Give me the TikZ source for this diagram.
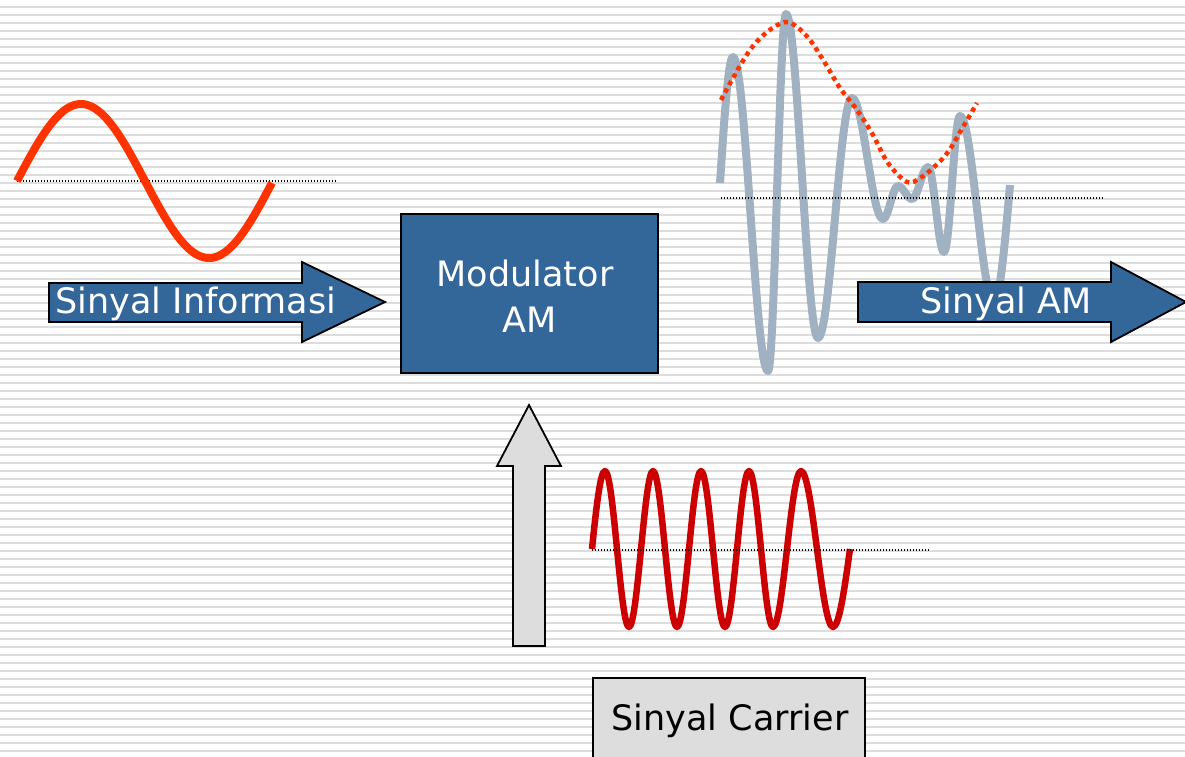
\documentclass[tikz,border=0pt]{standalone}
\usepackage{fontspec}
\setmainfont{DejaVu Sans}
\definecolor{amblue}{RGB}{51,102,153}
\definecolor{infored}{RGB}{255,51,0}
\definecolor{carred}{RGB}{204,0,0}
\definecolor{wavegray}{RGB}{160,177,193}
\definecolor{stripegray}{RGB}{221,221,221}
\definecolor{boxgray}{RGB}{221,221,221}
\tikzset{
  stripe/.style={draw=stripegray, line width=2pt},
  axisdots/.style={draw=black, line width=1.4pt, dash pattern=on 1.4pt off 1.6pt},
  envdots/.style={draw=infored, line width=4.5pt, dash pattern=on 4.5pt off 4pt},
  blockarrow/.style={fill=amblue, draw=black, line width=1.8pt, line join=miter},
  grayblock/.style={fill=boxgray, draw=black, line width=1.8pt, line join=miter},
  wlabel/.style={text=white, anchor=base, inner sep=0pt, font=\fontsize{35}{42}\selectfont},
  blabel/.style={text=black, anchor=base, inner sep=0pt, font=\fontsize{35}{42}\selectfont},
}
\begin{document}
\begin{tikzpicture}[x=1pt, y=-1pt]
\useasboundingbox (0,0) rectangle (1185,756);
\clip (0,0) rectangle (1185,756);
\fill[white] (0,0) rectangle (1185,756);

% ruled background
\foreach \k in {0,...,93}
  \draw[stripe] (0,{7+8*\k}) -- (1185,{7+8*\k});

% information signal
\draw[axisdots] (17,181) -- (337,181);
\draw[infored, line width=8pt, domain=17:272, samples=120, smooth]
  plot (\x, {181-77*sin(1.40625*(\x-17))});

% carrier signal
\draw[carred, line width=6.5pt, line join=round]
  (592,549) .. controls (596.3,507) and (600.3,471) .. (605,471)
  .. controls +(8.7,0) and +(-8.7,0) .. (629,627)
  .. controls +(8.6,0) and +(-8.6,0) .. (653,471)
  .. controls +(8.7,0) and +(-8.7,0) .. (677,627)
  .. controls +(8.7,0) and +(-8.7,0) .. (701,471)
  .. controls +(8.7,0) and +(-8.7,0) .. (725,627)
  .. controls +(8.7,0) and +(-8.7,0) .. (749,471)
  .. controls +(8.7,0) and +(-8.7,0) .. (773,627)
  .. controls +(10.2,0) and +(-10.2,0) .. (801,471)
  .. controls +(11.6,0) and +(-11.6,0) .. (833,627)
  .. controls (839.1,627) and (844.4,589.6) .. (850,549);
\draw[axisdots] (592,550) -- (929,550);

% modulated signal
\draw[wavegray, line width=8pt, line join=round]
  (720,183) .. controls (724.3,118) and (728.3,57) .. (733,57)
  .. controls +(12.7,0) and +(-12.7,0) .. (768,371)
  .. controls +(6.6,0) and +(-6.6,0) .. (786,14)
  .. controls +(11.6,0) and +(-11.6,0) .. (818,338)
  .. controls +(12.4,0) and +(-12.4,0) .. (852,98)
  .. controls +(11.3,0) and +(-11.3,0) .. (883,219)
  .. controls +(5.5,0) and +(-5.5,0) .. (898,186)
  .. controls +(5.1,0) and +(-5.1,0) .. (912,199)
  .. controls +(5.8,0) and +(-5.8,0) .. (928,167)
  .. controls +(5.8,0) and +(-5.8,0) .. (944,252)
  .. controls +(5.8,0) and +(-5.8,0) .. (960,116)
  .. controls +(12.4,0) and +(-12.4,0) .. (994,302)
  .. controls (999.8,302) and (1004.7,245) .. (1010,185);
\draw[axisdots] (721,198) -- (1103,198);
\draw[envdots, smooth, tension=0.6] plot coordinates {
  (721,100) (733,78) (750,50) (767,32) (785,22) (797,27) (810,40)
  (825,63) (840,88) (857,110) (873,135) (888,163) (907,182)
  (920,178) (933,168) (948,152) (963,127) (977,103)};

% input arrow
\draw[blockarrow] (49,283) -- (302,283) -- (302,262) -- (385,302)
  -- (302,342) -- (302,322) -- (49,322) -- cycle;
\node[wlabel] (info) at (196,313) {Sinyal Informasi};

% output arrow
\draw[blockarrow] (858,282) -- (1111,282) -- (1111,262) -- (1186,302)
  -- (1111,342) -- (1111,322) -- (858,322) -- cycle;
\node[wlabel] (out) at (1006,313) {Sinyal AM};

% modulator block
\draw[blockarrow] (401,214) rectangle (658,373);
\node[wlabel] (mod1) at (525,286) {Modulator};
\node[wlabel] (mod2) at (530,332) {AM};

% carrier feed arrow
\draw[grayblock] (529,405) -- (561,466) -- (545,466) -- (545,646)
  -- (513,646) -- (513,466) -- (497,466) -- cycle;

% carrier source
\draw[grayblock] (593,678) rectangle (865,770);
\node[blabel] (car) at (730,730) {Sinyal Carrier};
\end{tikzpicture}
\end{document}
